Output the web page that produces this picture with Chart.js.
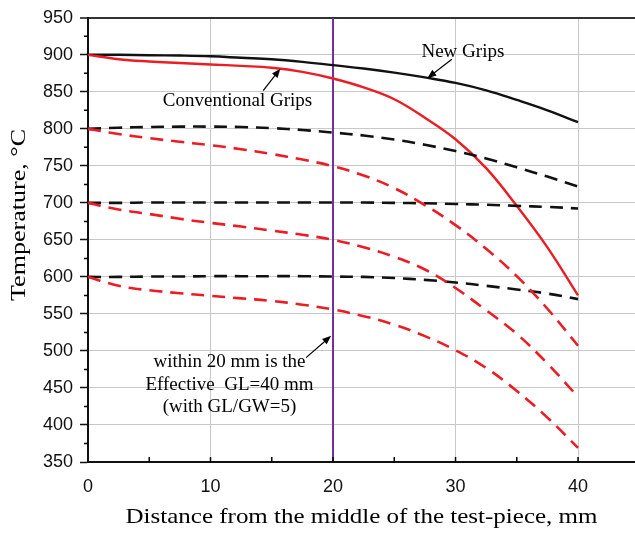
<!DOCTYPE html>
<html>
<head>
<meta charset="utf-8">
<script src="https://cdn.jsdelivr.net/npm/chart.js@4.4.1/dist/chart.umd.min.js"></script>
<style>
  html, body { margin: 0; padding: 0; background: #fff; }
</style>
</head>
<body>
<canvas id="chart" width="635" height="534"></canvas>
<script>
// distance from the middle of the test-piece, mm
const distance = [0, 2.5, 5, 7.5, 10, 12.5, 15, 17.5, 20, 22.5, 25, 27.5, 30, 32.5, 35, 37.5, 40];

// temperature, °C
const newGrips900 = [900, 900, 899.5, 899, 898, 896, 894, 890.5, 886, 881.5, 876, 869.5, 862, 852, 839, 825, 809];
const convGrips900 = [900, 894, 891, 889, 887, 885, 882.5, 877, 868, 856, 840, 815, 786, 747, 696, 640, 575];
const newGrips800 = [800, 801.5, 802.5, 803, 803, 802.5, 801, 798.5, 795, 791, 785.5, 778.5, 770, 760, 748, 735.5, 722];
const newGrips700 = [700, 700, 700.5, 700.5, 700.5, 700.5, 700.5, 700.5, 700.5, 700.5, 700, 699.5, 698.5, 697.5, 696, 694.5, 692.5];
const newGrips600 = [600, 600, 600.5, 600.5, 601, 601, 601, 601, 600.5, 600, 598.5, 596, 592.5, 588, 583, 577.5, 570];
const convGrips800 = [800, 793, 787.5, 782.5, 778, 772.5, 766, 758.5, 749.5, 737, 720, 697, 670, 638, 601, 557, 507];
const convGrips700 = [700, 691, 685, 678.5, 673, 668, 662.5, 657, 650, 640, 627, 610, 585, 555, 523, 483, 438];
const convGrips600 = [600, 588, 582, 578, 574.5, 571, 567.5, 562.5, 556, 547, 535.5, 520, 501, 477, 446, 410, 369];

// effective gauge half-length marker
const gaugeX = [20, 20];
const gaugeY = [350, 950];

const xTicks = [0, 10, 20, 30, 40];
const yTicks = [350, 400, 450, 500, 550, 600, 650, 700, 750, 800, 850, 900, 950];

// annotations in data units: text centre, arrow start, arrow tip
const notes = [
  { lines: ['New Grips'], at: [30.6, 904], from: [29.7, 894], to: [27.7, 868.5] },
  { lines: ['Conventional Grips'], at: [12.2, 838], from: [14.3, 851.7], to: [15.7, 881.3] },
  { lines: ['within 20 mm is the', 'Effective  GL=40 mm', '(with GL/GW=5)'], at: [11.55, 454], from: [17.8, 491], to: [19.85, 520.5] }
];

const RED = '#ec1c24';
const BLACK = '#111111';

const pts = (ys, xs = distance) => xs.map((x, i) => ({ x, y: ys[i] }));

const series = (data, color, dashed) => ({
  data: pts(data),
  borderColor: color,
  borderWidth: dashed ? 2.6 : 2.4,
  borderDash: dashed ? [13, 8] : [],
  pointRadius: 0,
  fill: false,
  tension: 0.4
});

// draws stretched serif text like the original figure
function stretchedText(ctx, text, cx, cy, size, stretch, angle) {
  ctx.save();
  ctx.translate(cx, cy);
  ctx.rotate(angle);
  ctx.scale(stretch, 1);
  ctx.font = size + 'px "Liberation Serif", "Times New Roman", serif';
  ctx.fillText(text, 0, 0);
  ctx.restore();
}

const decorations = {
  id: 'decorations',
  afterDraw(chart) {
    const { ctx, scales: { x, y } } = chart;
    ctx.save();

    // minor ticks: inward on x, outward on y
    ctx.strokeStyle = '#000';
    ctx.lineWidth = 1.5;
    ctx.beginPath();
    for (let v = 5; v < x.max; v += 5) {
      const px = x.getPixelForValue(v);
      ctx.moveTo(px, y.bottom);
      ctx.lineTo(px, y.bottom - 5);
    }
    for (let v = 375; v < 950; v += 50) {
      const py = y.getPixelForValue(v);
      ctx.moveTo(x.left - 4, py);
      ctx.lineTo(x.left, py);
    }
    ctx.stroke();

    // annotations with arrows
    ctx.fillStyle = '#000';
    ctx.font = '19px "Liberation Serif", "Times New Roman", serif';
    ctx.textAlign = 'center';
    ctx.textBaseline = 'middle';
    notes.forEach(n => {
      const cx = x.getPixelForValue(n.at[0]);
      const cy = y.getPixelForValue(n.at[1]);
      const lh = 22.5;
      n.lines.forEach((t, i) => {
        ctx.fillText(t, cx, cy + (i - (n.lines.length - 1) / 2) * lh);
      });
      const x1 = x.getPixelForValue(n.from[0]), y1 = y.getPixelForValue(n.from[1]);
      const x2 = x.getPixelForValue(n.to[0]), y2 = y.getPixelForValue(n.to[1]);
      const a = Math.atan2(y2 - y1, x2 - x1);
      ctx.lineWidth = 1.2;
      ctx.beginPath();
      ctx.moveTo(x1, y1);
      ctx.lineTo(x2 - 6 * Math.cos(a), y2 - 6 * Math.sin(a));
      ctx.stroke();
      ctx.beginPath();
      ctx.moveTo(x2, y2);
      ctx.lineTo(x2 - 9 * Math.cos(a) + 3.5 * Math.sin(a), y2 - 9 * Math.sin(a) - 3.5 * Math.cos(a));
      ctx.lineTo(x2 - 9 * Math.cos(a) - 3.5 * Math.sin(a), y2 - 9 * Math.sin(a) + 3.5 * Math.cos(a));
      ctx.closePath();
      ctx.fill();
    });

    // axis titles
    stretchedText(ctx, 'Distance from the middle of the test-piece, mm', (x.left + x.right) / 2, 517, 21, 1.19, 0);
    stretchedText(ctx, 'Temperature, °C', 19, 215, 21, 1.24, -Math.PI / 2);
    ctx.restore();
  }
};

new Chart(document.getElementById('chart'), {
  type: 'line',
  data: {
    datasets: [
      series(convGrips800, RED, true),
      series(convGrips700, RED, true),
      series(convGrips600, RED, true),
      series(newGrips800, BLACK, true),
      series(newGrips700, BLACK, true),
      series(newGrips600, BLACK, true),
      series(convGrips900, RED, false),
      series(newGrips900, BLACK, false),
      {
        data: pts(gaugeY, gaugeX),
        borderColor: '#7030a0',
        borderWidth: 2,
        pointRadius: 0,
        fill: false
      }
    ]
  },
  options: {
    responsive: false,
    animation: false,
    layout: { padding: { top: 16, left: 0, right: 0, bottom: 0 } },
    plugins: {
      legend: { display: false },
      tooltip: { enabled: false }
    },
    scales: {
      x: {
        type: 'linear',
        min: 0,
        max: 44.65,
        afterFit: s => { s.height = 72; },
        afterBuildTicks: s => { s.ticks = xTicks.map(v => ({ value: v })); },
        ticks: {
          padding: 14,
          color: '#111',
          font: { family: '"Liberation Sans", Arial, sans-serif', size: 18 }
        },
        grid: { color: '#c8c8c8', lineWidth: 1, drawTicks: false },
        border: { color: '#111', width: 2 }
      },
      y: {
        min: 350,
        max: 950,
        afterFit: s => { s.width = 88; },
        afterBuildTicks: s => { s.ticks = yTicks.map(v => ({ value: v })); },
        ticks: {
          padding: 7,
          color: '#111',
          font: { family: '"Liberation Sans", Arial, sans-serif', size: 18 }
        },
        grid: {
          color: c => (c.tick && c.tick.value === 950 ? '#333' : '#c8c8c8'),
          lineWidth: c => (c.tick && c.tick.value === 950 ? 2 : 1),
          tickLength: 8,
          tickColor: '#111',
          tickWidth: 1.5
        },
        border: { color: '#111', width: 2 }
      }
    }
  },
  plugins: [decorations]
});
</script>
</body>
</html>
